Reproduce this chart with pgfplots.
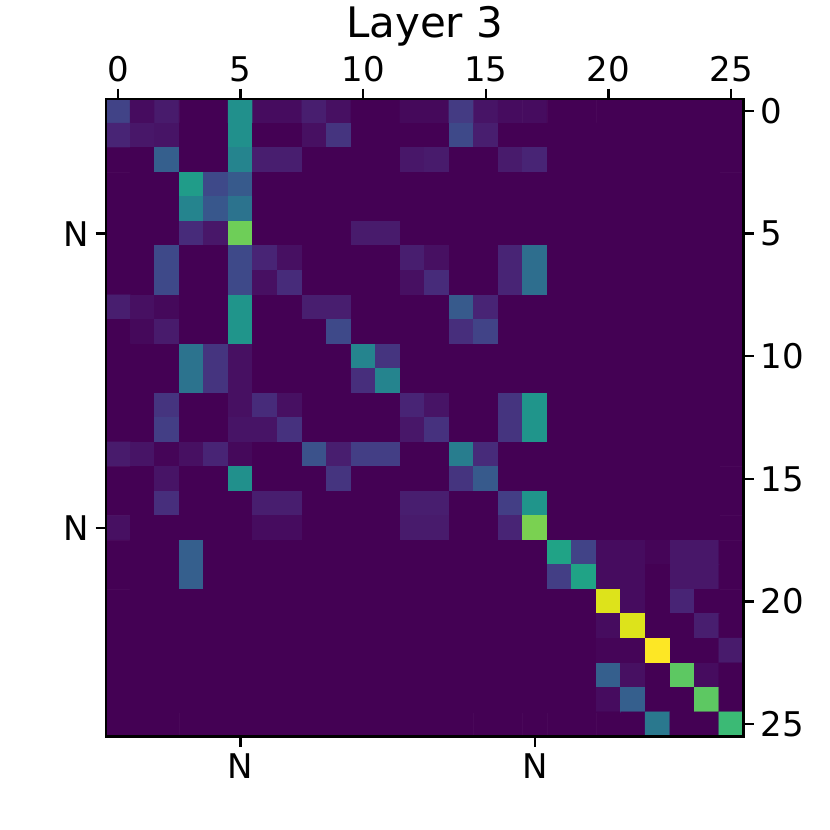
\documentclass[border=0pt]{standalone}
\usepackage{pgfplots}
\pgfplotsset{compat=1.18}
\usepackage{fontspec}
\setmainfont{DejaVu Sans}
\begin{document}
\begin{tikzpicture}
\path[use as bounding box] (-52.85pt,-46.75pt) rectangle (362.15pt,368.25pt);
\pgfplotsset{
  hm/.style={
    scale only axis, width=318.9pt, height=318.9pt,
    at={(0pt,0pt)}, anchor=south west,
    xmin=-0.5, xmax=25.5, ymin=-0.5, ymax=25.5,
    y dir=reverse, enlargelimits=false,
    tick align=outside, major tick length=5pt,
    tick style={black, line width=1.15pt},
    axis line style={line width=1.15pt},
    ticklabel style={font=\fontsize{17}{20}\selectfont},
    /pgf/number format/assume math mode=true,
  },
}
\begin{axis}[hm,
    axis on top,
    colormap/viridis, point meta min=0, point meta max=1,
    xtick={0,5,...,25}, ytick={0,5,...,25},
    xtick pos=right, xticklabel pos=right,
    ytick pos=right, yticklabel pos=right,
]
\addplot[matrix plot*, mesh/cols=26, point meta=explicit] coordinates {
(0,0)[0.20] (1,0)[0.03] (2,0)[0.07] (3,0)[0] (4,0)[0] (5,0)[0.50] (6,0)[0.03] (7,0)[0.03] (8,0)[0.08] (9,0)[0.04] (10,0)[0] (11,0)[0] (12,0)[0.02] (13,0)[0.02] (14,0)[0.17] (15,0)[0.05] (16,0)[0.03] (17,0)[0.03] (18,0)[0] (19,0)[0] (20,0)[0] (21,0)[0] (22,0)[0] (23,0)[0] (24,0)[0] (25,0)[0]

(0,1)[0.10] (1,1)[0.06] (2,1)[0.05] (3,1)[0] (4,1)[0] (5,1)[0.50] (6,1)[0] (7,1)[0] (8,1)[0.04] (9,1)[0.15] (10,1)[0] (11,1)[0] (12,1)[0] (13,1)[0] (14,1)[0.22] (15,1)[0.08] (16,1)[0] (17,1)[0] (18,1)[0] (19,1)[0] (20,1)[0] (21,1)[0] (22,1)[0] (23,1)[0] (24,1)[0] (25,1)[0]

(0,2)[0] (1,2)[0] (2,2)[0.30] (3,2)[0] (4,2)[0] (5,2)[0.45] (6,2)[0.08] (7,2)[0.08] (8,2)[0] (9,2)[0] (10,2)[0] (11,2)[0] (12,2)[0.06] (13,2)[0.07] (14,2)[0] (15,2)[0] (16,2)[0.07] (17,2)[0.10] (18,2)[0] (19,2)[0] (20,2)[0] (21,2)[0] (22,2)[0] (23,2)[0] (24,2)[0] (25,2)[0]

(0,3)[0] (1,3)[0] (2,3)[0] (3,3)[0.55] (4,3)[0.22] (5,3)[0.28] (6,3)[0] (7,3)[0] (8,3)[0] (9,3)[0] (10,3)[0] (11,3)[0] (12,3)[0] (13,3)[0] (14,3)[0] (15,3)[0] (16,3)[0] (17,3)[0] (18,3)[0] (19,3)[0] (20,3)[0] (21,3)[0] (22,3)[0] (23,3)[0] (24,3)[0] (25,3)[0]

(0,4)[0] (1,4)[0] (2,4)[0] (3,4)[0.45] (4,4)[0.27] (5,4)[0.38] (6,4)[0] (7,4)[0] (8,4)[0] (9,4)[0] (10,4)[0] (11,4)[0] (12,4)[0] (13,4)[0] (14,4)[0] (15,4)[0] (16,4)[0] (17,4)[0] (18,4)[0] (19,4)[0] (20,4)[0] (21,4)[0] (22,4)[0] (23,4)[0] (24,4)[0] (25,4)[0]

(0,5)[0] (1,5)[0] (2,5)[0] (3,5)[0.12] (4,5)[0.06] (5,5)[0.78] (6,5)[0] (7,5)[0] (8,5)[0] (9,5)[0] (10,5)[0.07] (11,5)[0.07] (12,5)[0] (13,5)[0] (14,5)[0] (15,5)[0] (16,5)[0] (17,5)[0] (18,5)[0] (19,5)[0] (20,5)[0] (21,5)[0] (22,5)[0] (23,5)[0] (24,5)[0] (25,5)[0]

(0,6)[0] (1,6)[0] (2,6)[0.22] (3,6)[0] (4,6)[0] (5,6)[0.22] (6,6)[0.10] (7,6)[0.04] (8,6)[0] (9,6)[0] (10,6)[0] (11,6)[0] (12,6)[0.08] (13,6)[0.04] (14,6)[0] (15,6)[0] (16,6)[0.10] (17,6)[0.36] (18,6)[0] (19,6)[0] (20,6)[0] (21,6)[0] (22,6)[0] (23,6)[0] (24,6)[0] (25,6)[0]

(0,7)[0] (1,7)[0] (2,7)[0.22] (3,7)[0] (4,7)[0] (5,7)[0.22] (6,7)[0.04] (7,7)[0.12] (8,7)[0] (9,7)[0] (10,7)[0] (11,7)[0] (12,7)[0.04] (13,7)[0.12] (14,7)[0] (15,7)[0] (16,7)[0.10] (17,7)[0.36] (18,7)[0] (19,7)[0] (20,7)[0] (21,7)[0] (22,7)[0] (23,7)[0] (24,7)[0] (25,7)[0]

(0,8)[0.08] (1,8)[0.04] (2,8)[0.02] (3,8)[0] (4,8)[0] (5,8)[0.52] (6,8)[0] (7,8)[0] (8,8)[0.08] (9,8)[0.08] (10,8)[0] (11,8)[0] (12,8)[0] (13,8)[0] (14,8)[0.28] (15,8)[0.10] (16,8)[0] (17,8)[0] (18,8)[0] (19,8)[0] (20,8)[0] (21,8)[0] (22,8)[0] (23,8)[0] (24,8)[0] (25,8)[0]

(0,9)[0] (1,9)[0.02] (2,9)[0.07] (3,9)[0] (4,9)[0] (5,9)[0.52] (6,9)[0] (7,9)[0] (8,9)[0] (9,9)[0.22] (10,9)[0] (11,9)[0] (12,9)[0] (13,9)[0] (14,9)[0.13] (15,9)[0.20] (16,9)[0] (17,9)[0] (18,9)[0] (19,9)[0] (20,9)[0] (21,9)[0] (22,9)[0] (23,9)[0] (24,9)[0] (25,9)[0]

(0,10)[0] (1,10)[0] (2,10)[0] (3,10)[0.38] (4,10)[0.15] (5,10)[0.04] (6,10)[0] (7,10)[0] (8,10)[0] (9,10)[0] (10,10)[0.45] (11,10)[0.15] (12,10)[0] (13,10)[0] (14,10)[0] (15,10)[0] (16,10)[0] (17,10)[0] (18,10)[0] (19,10)[0] (20,10)[0] (21,10)[0] (22,10)[0] (23,10)[0] (24,10)[0] (25,10)[0]

(0,11)[0] (1,11)[0] (2,11)[0] (3,11)[0.38] (4,11)[0.15] (5,11)[0.04] (6,11)[0] (7,11)[0] (8,11)[0] (9,11)[0] (10,11)[0.13] (11,11)[0.45] (12,11)[0] (13,11)[0] (14,11)[0] (15,11)[0] (16,11)[0] (17,11)[0] (18,11)[0] (19,11)[0] (20,11)[0] (21,11)[0] (22,11)[0] (23,11)[0] (24,11)[0] (25,11)[0]

(0,12)[0] (1,12)[0] (2,12)[0.15] (3,12)[0] (4,12)[0] (5,12)[0.04] (6,12)[0.12] (7,12)[0.04] (8,12)[0] (9,12)[0] (10,12)[0] (11,12)[0] (12,12)[0.10] (13,12)[0.05] (14,12)[0] (15,12)[0] (16,12)[0.15] (17,12)[0.52] (18,12)[0] (19,12)[0] (20,12)[0] (21,12)[0] (22,12)[0] (23,12)[0] (24,12)[0] (25,12)[0]

(0,13)[0] (1,13)[0] (2,13)[0.18] (3,13)[0] (4,13)[0] (5,13)[0.05] (6,13)[0.05] (7,13)[0.14] (8,13)[0] (9,13)[0] (10,13)[0] (11,13)[0] (12,13)[0.06] (13,13)[0.14] (14,13)[0] (15,13)[0] (16,13)[0.15] (17,13)[0.52] (18,13)[0] (19,13)[0] (20,13)[0] (21,13)[0] (22,13)[0] (23,13)[0] (24,13)[0] (25,13)[0]

(0,14)[0.07] (1,14)[0.05] (2,14)[0.01] (3,14)[0.04] (4,14)[0.10] (5,14)[0.02] (6,14)[0] (7,14)[0] (8,14)[0.25] (9,14)[0.08] (10,14)[0.18] (11,14)[0.18] (12,14)[0] (13,14)[0] (14,14)[0.42] (15,14)[0.12] (16,14)[0] (17,14)[0] (18,14)[0] (19,14)[0] (20,14)[0] (21,14)[0] (22,14)[0] (23,14)[0] (24,14)[0] (25,14)[0]

(0,15)[0] (1,15)[0] (2,15)[0.05] (3,15)[0] (4,15)[0] (5,15)[0.50] (6,15)[0] (7,15)[0] (8,15)[0] (9,15)[0.15] (10,15)[0] (11,15)[0] (12,15)[0] (13,15)[0] (14,15)[0.15] (15,15)[0.28] (16,15)[0] (17,15)[0] (18,15)[0] (19,15)[0] (20,15)[0] (21,15)[0] (22,15)[0] (23,15)[0] (24,15)[0] (25,15)[0]

(0,16)[0] (1,16)[0] (2,16)[0.13] (3,16)[0] (4,16)[0] (5,16)[0] (6,16)[0.08] (7,16)[0.08] (8,16)[0] (9,16)[0] (10,16)[0] (11,16)[0] (12,16)[0.08] (13,16)[0.08] (14,16)[0] (15,16)[0] (16,16)[0.18] (17,16)[0.52] (18,16)[0] (19,16)[0] (20,16)[0] (21,16)[0] (22,16)[0] (23,16)[0] (24,16)[0] (25,16)[0]

(0,17)[0.04] (1,17)[0] (2,17)[0] (3,17)[0] (4,17)[0] (5,17)[0] (6,17)[0.03] (7,17)[0.03] (8,17)[0] (9,17)[0] (10,17)[0] (11,17)[0] (12,17)[0.07] (13,17)[0.07] (14,17)[0] (15,17)[0] (16,17)[0.10] (17,17)[0.80] (18,17)[0] (19,17)[0] (20,17)[0] (21,17)[0] (22,17)[0] (23,17)[0] (24,17)[0] (25,17)[0]

(0,18)[0] (1,18)[0] (2,18)[0] (3,18)[0.30] (4,18)[0] (5,18)[0] (6,18)[0] (7,18)[0] (8,18)[0] (9,18)[0] (10,18)[0] (11,18)[0] (12,18)[0] (13,18)[0] (14,18)[0] (15,18)[0] (16,18)[0] (17,18)[0] (18,18)[0.58] (19,18)[0.20] (20,18)[0.03] (21,18)[0.03] (22,18)[0.01] (23,18)[0.06] (24,18)[0.06] (25,18)[0]

(0,19)[0] (1,19)[0] (2,19)[0] (3,19)[0.30] (4,19)[0] (5,19)[0] (6,19)[0] (7,19)[0] (8,19)[0] (9,19)[0] (10,19)[0] (11,19)[0] (12,19)[0] (13,19)[0] (14,19)[0] (15,19)[0] (16,19)[0] (17,19)[0] (18,19)[0.18] (19,19)[0.58] (20,19)[0.03] (21,19)[0.03] (22,19)[0] (23,19)[0.06] (24,19)[0.06] (25,19)[0]

(0,20)[0] (1,20)[0] (2,20)[0] (3,20)[0] (4,20)[0] (5,20)[0] (6,20)[0] (7,20)[0] (8,20)[0] (9,20)[0] (10,20)[0] (11,20)[0] (12,20)[0] (13,20)[0] (14,20)[0] (15,20)[0] (16,20)[0] (17,20)[0] (18,20)[0] (19,20)[0] (20,20)[0.95] (21,20)[0.03] (22,20)[0] (23,20)[0.10] (24,20)[0] (25,20)[0]

(0,21)[0] (1,21)[0] (2,21)[0] (3,21)[0] (4,21)[0] (5,21)[0] (6,21)[0] (7,21)[0] (8,21)[0] (9,21)[0] (10,21)[0] (11,21)[0] (12,21)[0] (13,21)[0] (14,21)[0] (15,21)[0] (16,21)[0] (17,21)[0] (18,21)[0] (19,21)[0] (20,21)[0.03] (21,21)[0.95] (22,21)[0] (23,21)[0] (24,21)[0.08] (25,21)[0]

(0,22)[0] (1,22)[0] (2,22)[0] (3,22)[0] (4,22)[0] (5,22)[0] (6,22)[0] (7,22)[0] (8,22)[0] (9,22)[0] (10,22)[0] (11,22)[0] (12,22)[0] (13,22)[0] (14,22)[0] (15,22)[0] (16,22)[0] (17,22)[0] (18,22)[0] (19,22)[0] (20,22)[0.01] (21,22)[0.01] (22,22)[1.00] (23,22)[0] (24,22)[0] (25,22)[0.07]

(0,23)[0] (1,23)[0] (2,23)[0] (3,23)[0] (4,23)[0] (5,23)[0] (6,23)[0] (7,23)[0] (8,23)[0] (9,23)[0] (10,23)[0] (11,23)[0] (12,23)[0] (13,23)[0] (14,23)[0] (15,23)[0] (16,23)[0] (17,23)[0] (18,23)[0] (19,23)[0] (20,23)[0.30] (21,23)[0.04] (22,23)[0] (23,23)[0.75] (24,23)[0.03] (25,23)[0]

(0,24)[0] (1,24)[0] (2,24)[0] (3,24)[0] (4,24)[0] (5,24)[0] (6,24)[0] (7,24)[0] (8,24)[0] (9,24)[0] (10,24)[0] (11,24)[0] (12,24)[0] (13,24)[0] (14,24)[0] (15,24)[0] (16,24)[0] (17,24)[0] (18,24)[0] (19,24)[0] (20,24)[0.03] (21,24)[0.30] (22,24)[0] (23,24)[0] (24,24)[0.75] (25,24)[0]

(0,25)[0] (1,25)[0] (2,25)[0] (3,25)[0] (4,25)[0] (5,25)[0] (6,25)[0] (7,25)[0] (8,25)[0] (9,25)[0] (10,25)[0] (11,25)[0] (12,25)[0] (13,25)[0] (14,25)[0] (15,25)[0] (16,25)[0] (17,25)[0] (18,25)[0] (19,25)[0] (20,25)[0] (21,25)[0] (22,25)[0.40] (23,25)[0] (24,25)[0] (25,25)[0.68]
};
\end{axis}
\begin{axis}[hm,
    axis line style={draw=none},
    xtick={5,17}, xticklabels={N,N},
    ytick={5,17}, yticklabels={N,N},
    xtick pos=left, xticklabel pos=left,
    ytick pos=left, yticklabel pos=left,
]
\end{axis}
\node[anchor=base, font=\fontsize{21}{25}\selectfont] at (159.45pt,349.25pt) {Layer 3};
\end{tikzpicture}
\end{document}
